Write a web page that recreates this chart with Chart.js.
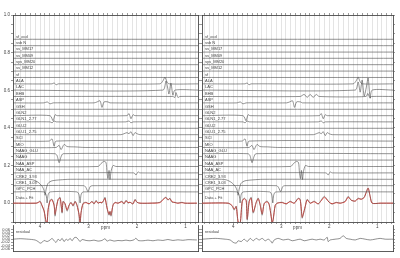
<!DOCTYPE html>
<html><head><meta charset="utf-8">
<script src="https://cdn.jsdelivr.net/npm/chart.js@4.4.1/dist/chart.umd.min.js"></script>
<style>
html,body{margin:0;padding:0;background:#fff;width:400px;height:258px;overflow:hidden}
canvas{position:absolute}
</style></head><body>
<canvas id="lt" style="left:0;top:0" width="200" height="236"></canvas>
<canvas id="rt" style="left:200px;top:0" width="200" height="236"></canvas>
<canvas id="lr" style="left:0;top:222px" width="200" height="36"></canvas>
<canvas id="rr" style="left:200px;top:222px" width="200" height="36"></canvas>
<script>
// ---------------- DATA ----------------
const names = ["sf_ocd","ssb N","ss_MM17","ss_MM09","sys_MM20","ss_MM12","sf","ALA","LAC","BHB","ASP","GSH","GLN2","GLN1_2.77","GLU2","GLU1_2.75","SCI","MIO","NAAG_GLU","NAAG","NAA_ASP","NAA_AC","CRE2_3.93","CRE1_3.03","GPC_PCH"];
const offsets = [0.871,0.837,0.803,0.770,0.736,0.702,0.668,0.634,0.601,0.567,0.533,0.499,0.465,0.432,0.398,0.364,0.330,0.296,0.263,0.229,0.195,0.161,0.127,0.093,0.060];
const xTicks = [4,3,2,1];
const yTicks = [0.0,0.2,0.4,0.6,0.8,1.0];
const resTicks = [-0.06,-0.04,-0.02,0.00,0.02,0.04,0.06];

// trace shapes: [ppm, deviation from own baseline]
const flat = [];
const ALA_L = [[3.753,0],[3.711,.005],[3.670,-.005],[3.629,0],[1.526,0],[1.464,.016],[1.423,.035],[1.381,.011],[1.340,0]];
const ALA_R = [[3.753,0],[3.711,.005],[3.670,-.005],[3.629,0],[1.500,0],[1.438,.016],[1.396,.035],[1.354,.011],[1.313,0]];
const LAC_L = [[1.464,0],[1.402,.048],[1.361,.005],[1.340,-.021],[1.299,.037],[1.258,-.027],[1.216,0]];
const LAC_R = [[1.458,0],[1.396,.043],[1.354,-.011],[1.313,.053],[1.271,-.032],[1.229,.011],[1.188,.064],[1.146,-.043],[1.104,0]];
const BHB_L = [[1.258,0],[1.216,-.005],[1.196,.021],[1.155,-.005],[1.113,0]];
const BHB_R = [[2.604,0],[2.521,.011],[2.458,-.005],[2.396,.011],[2.333,-.005],[2.271,.011],[2.208,0],[1.229,0],[1.196,.016],[1.155,-.005],[1.113,0]];
const ASP = [[3.918,0],[3.856,.005],[3.794,-.005],[3.732,0],[2.887,0],[2.825,.005],[2.763,.011],[2.722,-.024],[2.680,.005],[2.598,.005],[2.557,0]];
const GLN2 = [[3.794,0],[3.732,-.027],[3.691,.005],[3.649,0],[2.206,0],[2.165,.011],[2.124,-.016],[2.082,.005],[2.041,0]];
const GLN1 = [[3.794,0],[3.753,-.005],[3.711,.005],[3.670,0],[2.227,0],[2.165,.005],[2.124,-.005],[2.082,0]];
const GLU1 = [[2.330,0],[2.268,.005],[2.206,.011],[2.165,.005],[2.124,.016],[2.082,-.005],[2.041,.011],[2.000,.005],[1.938,0]];
const SCI = [[3.814,0],[3.753,.011],[3.711,-.027],[3.670,0]];
const MIO = [[3.670,0],[3.608,.011],[3.567,-.011],[3.505,.016],[3.443,.005],[3.278,.003],[3.072,0]];
const NAAG_GLU = [[3.691,0],[3.649,-.011],[3.608,-.048],[3.567,-.016],[3.526,0]];
const NAA_ASP = [[2.804,0],[2.742,.016],[2.680,.027],[2.639,.021],[2.619,-.032],[2.598,-.064],[2.577,-.021],[2.557,-.069],[2.536,-.027],[2.495,.005],[2.433,0]];
const NAA_AC = [[2.062,0],[2.021,-.011],[1.979,.005],[1.938,0]];
const CRE2 = [[4.247,0],[4.144,-.003],[4.041,-.016],[3.959,-.037],[3.918,-.059],[3.897,-.085],[3.876,-.053],[3.835,-.021],[3.753,-.008],[3.588,-.003],[3.381,0]];
const CRE1 = [[3.093,0],[3.052,-.011],[3.010,-.032],[2.969,-.005],[2.928,0]];
const GPC_PCH = [[3.918,0],[3.876,-.016],[3.856,-.059],[3.835,-.016],[3.794,0],[3.237,0],[3.196,-.016],[3.175,-.059],[3.155,-.016],[3.113,0]];

const shapesL = [flat,flat,flat,flat,flat,flat,flat,ALA_L,LAC_L,BHB_L,ASP,flat,GLN2,GLN1,flat,GLU1,SCI,MIO,NAAG_GLU,flat,NAA_ASP,NAA_AC,CRE2,CRE1,GPC_PCH];
const shapesR = [flat,flat,flat,flat,flat,flat,flat,ALA_R,LAC_R,BHB_R,ASP,flat,GLN2,GLN1,flat,GLU1,SCI,MIO,NAAG_GLU,flat,NAA_ASP,NAA_AC,CRE2,CRE1,GPC_PCH];

const dataL = [[4.557,0],[4.082,0],[4.041,.005],[4.000,.011],[3.959,-.016],[3.918,-.043],[3.876,-.106],[3.856,-.106],[3.835,-.032],[3.794,.016],[3.753,.021],[3.711,-.011],[3.691,-.069],[3.670,-.032],[3.629,.021],[3.588,.032],[3.567,-.011],[3.546,-.053],[3.526,.011],[3.485,-.005],[3.443,-.043],[3.402,-.011],[3.361,.005],[3.320,-.016],[3.278,.011],[3.237,-.011],[3.196,-.064],[3.175,-.106],[3.155,-.053],[3.113,0],[3.052,.005],[2.990,-.005],[2.928,.011],[2.887,-.005],[2.845,.016],[2.804,0],[2.763,.005],[2.722,0],[2.680,.021],[2.660,.032],[2.619,-.027],[2.577,-.064],[2.557,-.043],[2.536,-.069],[2.495,-.011],[2.454,.005],[2.392,0],[2.309,.011],[2.268,-.005],[2.227,.016],[2.186,0],[2.144,.005],[2.082,-.005],[2.041,.021],[2.000,.005],[1.938,0],[1.732,0],[1.526,.005],[1.464,.021],[1.402,.032],[1.361,.016],[1.320,.027],[1.278,.005],[1.216,.005],[1.155,0],[1.072,.005],[1.010,0],[0.763,0]];
const fitL = [[4.557,0],[4.082,0],[4.041,.003],[4.000,.008],[3.959,-.013],[3.918,-.040],[3.876,-.100],[3.856,-.106],[3.835,-.035],[3.794,.013],[3.753,.018],[3.711,-.013],[3.691,-.060],[3.670,-.030],[3.629,.018],[3.588,.027],[3.567,-.008],[3.546,-.048],[3.526,.008],[3.485,-.003],[3.443,-.037],[3.402,-.011],[3.361,.003],[3.320,-.013],[3.278,.008],[3.237,-.013],[3.196,-.060],[3.175,-.106],[3.155,-.050],[3.113,-.003],[3.052,.003],[2.990,-.003],[2.928,.008],[2.887,-.003],[2.845,.011],[2.804,0],[2.763,.005],[2.722,.003],[2.680,.018],[2.660,.027],[2.619,-.024],[2.577,-.060],[2.557,-.045],[2.536,-.064],[2.495,-.011],[2.454,.003],[2.392,0],[2.309,.008],[2.268,-.003],[2.227,.013],[2.186,.003],[2.144,.005],[2.082,-.003],[2.041,.018],[2.000,.005],[1.938,0],[1.732,0],[1.526,.003],[1.464,.018],[1.402,.030],[1.361,.018],[1.320,.024],[1.278,.008],[1.216,.003],[1.155,0],[1.072,.003],[1.010,0],[0.763,0]];
const dataR = [[4.646,0],[4.104,0],[4.021,-.016],[3.979,-.037],[3.938,-.016],[3.896,-.106],[3.854,-.106],[3.813,.011],[3.771,.027],[3.729,.016],[3.708,-.090],[3.667,.011],[3.625,.032],[3.583,-.053],[3.521,.005],[3.479,.027],[3.438,-.011],[3.396,-.064],[3.354,0],[3.292,.011],[3.250,-.005],[3.208,-.075],[3.188,-.106],[3.167,-.090],[3.125,-.011],[3.083,0],[2.979,.005],[2.896,-.005],[2.813,.011],[2.729,0],[2.646,.027],[2.604,.021],[2.563,-.080],[2.542,-.064],[2.500,-.021],[2.458,.021],[2.396,0],[2.313,.011],[2.229,-.005],[2.167,.016],[2.104,.037],[2.063,.027],[2.000,.005],[1.938,-.005],[1.854,.005],[1.771,0],[1.667,.011],[1.604,.037],[1.542,.016],[1.458,.011],[1.396,.027],[1.333,.021],[1.271,.032],[1.229,.059],[1.188,.080],[1.146,.037],[1.104,0],[0.938,0],[0.667,0]];
const fitR = [[4.646,0],[4.104,0],[4.021,-.013],[3.979,-.032],[3.938,-.018],[3.896,-.100],[3.854,-.106],[3.813,.008],[3.771,.024],[3.729,.013],[3.708,-.085],[3.667,.008],[3.625,.027],[3.583,-.048],[3.521,.003],[3.479,.024],[3.438,-.008],[3.396,-.058],[3.354,-.003],[3.292,.008],[3.250,-.008],[3.208,-.070],[3.188,-.106],[3.167,-.085],[3.125,-.013],[3.083,0],[2.979,.003],[2.896,-.003],[2.813,.008],[2.729,0],[2.646,.024],[2.604,.018],[2.563,-.075],[2.542,-.060],[2.500,-.018],[2.458,.018],[2.396,0],[2.313,.008],[2.229,-.003],[2.167,.013],[2.104,.032],[2.063,.024],[2.000,.005],[1.938,-.003],[1.854,.003],[1.771,0],[1.667,.008],[1.604,.032],[1.542,.016],[1.458,.011],[1.396,.024],[1.333,.021],[1.271,.030],[1.229,.056],[1.188,.080],[1.146,.035],[1.104,0],[0.938,0],[0.667,0]];

const resL = [[4.557,0],[4.412,.003],[4.247,0],[4.103,-.005],[4.041,-.015],[4.000,-.025],[3.959,-.02],[3.918,-.008],[3.856,-.015],[3.794,-.005],[3.753,.005],[3.711,-.01],[3.670,-.02],[3.629,0],[3.588,-.01],[3.546,.005],[3.505,-.015],[3.464,0],[3.423,-.008],[3.381,.005],[3.340,-.01],[3.299,.008],[3.258,.012],[3.216,0],[3.175,-.015],[3.134,-.002],[3.052,-.008],[2.969,-.01],[2.887,-.006],[2.804,-.012],[2.722,-.008],[2.660,.003],[2.619,-.012],[2.557,-.005],[2.474,-.012],[2.392,-.008],[2.309,-.01],[2.227,-.006],[2.144,-.01],[2.062,-.004],[2.021,.006],[1.979,-.008],[1.876,-.01],[1.773,-.006],[1.670,-.01],[1.567,-.005],[1.464,-.008],[1.361,-.002],[1.258,-.008],[1.155,-.004],[1.052,-.007],[0.948,-.003],[0.763,-.005]];
const resR = [[4.646,0],[4.375,.005],[4.167,0],[4.063,-.005],[4.000,-.02],[3.938,-.025],[3.896,-.01],[3.833,-.015],[3.771,0],[3.708,-.015],[3.646,.005],[3.583,-.01],[3.521,.005],[3.458,-.005],[3.396,.005],[3.333,-.01],[3.271,0],[3.208,-.015],[3.188,-.025],[3.146,-.005],[3.063,.005],[2.958,-.005],[2.854,0],[2.771,-.01],[2.688,-.005],[2.604,0],[2.521,-.01],[2.438,-.005],[2.354,0],[2.271,-.005],[2.188,0],[2.104,-.005],[2.042,.012],[2.021,-.015],[1.979,-.005],[1.875,0],[1.771,.005],[1.708,.022],[1.646,.005],[1.563,0],[1.458,-.005],[1.354,.005],[1.250,0],[1.146,-.005],[1.042,0],[0.938,.005],[0.833,0],[0.667,0]];

// ---------------- RENDER ----------------
const FONT = '"Liberation Sans", Arial, sans-serif';
const TXT = '#444';
const LINE = '#4a4a4a';

function pts(arr, off){ return arr.map(p => ({x:p[0], y:off + p[1]})); }
function traceSet(shape, off, xmin, xmax){
  const a = [[xmax,0]].concat(shape.slice().sort((p,q)=>q[0]-p[0])).concat([[xmin,0]]);
  return pts(a, off);
}

const textPlugin = {
  id:'txt',
  afterDatasetsDraw(chart, args, o){
    const ctx = chart.ctx, y = chart.scales.y, a = chart.chartArea;
    ctx.save();
    ctx.font = '4px ' + FONT;
    ctx.fillStyle = TXT;
    ctx.textBaseline = 'bottom';
    (o.labels||[]).forEach(l => ctx.fillText(l.t, a.left + 3, y.getPixelForValue(l.v) - 0.8));
    if (o.ppm) {
      ctx.font = '4.5px ' + FONT;
      ctx.textAlign = 'center';
      ctx.textBaseline = 'top';
      ctx.fillText('ppm', (a.left + a.right)/2, a.bottom + 4);
    }
    ctx.restore();
  }
};

function tenths(xmin, xmax){ const t=[]; for (let k=Math.ceil(xmin*10);k<=Math.floor(xmax*10);k++) t.push({value:k/10}); return t; }

function topChart(id, shapes, data, fit, xmin, xmax, yw, y2w, showY){
  const ds = [];
  shapes.forEach((s,i) => ds.push({data: traceSet(s, offsets[i], xmin, xmax), borderColor: LINE, borderWidth: 0.6}));
  ds.push({data: pts(data,0), borderColor:'#666', borderWidth:0.6});
  ds.push({data: pts(fit,0), borderColor:'#f2352c', borderWidth:1});
  const labels = names.map((t,i)=>({t, v:offsets[i]}));
  labels.push({t:'Data + Fit', v:0.013});
  const yScale = {min:-0.1, max:1.0, afterBuildTicks: s => { s.ticks = []; for (let k=-2;k<=20;k++) s.ticks.push({value:k*0.05}); },
      afterFit: s => { s.width = yw; },
      ticks:{display:showY, autoSkip:false, padding:1, color:TXT, font:{size:4.5, family:FONT},
        callback: v => { const r = Math.round(v*100); return (yTicks.some(t=>Math.round(t*100)===r)) ? (r/100).toFixed(1) : ''; }},
      grid:{drawOnChartArea:false, tickLength:2, color:'#555', lineWidth:0.6}, border:{color:'#333', width:0.8}};
  return new Chart(document.getElementById(id), {
    type:'scatter',
    data:{datasets: ds.map(d => Object.assign(d, {showLine:true, pointRadius:0, tension:0.25, fill:false}))},
    options:{
      responsive:false, animation:false, events:[],
      layout:{padding:0},
      plugins:{legend:{display:false}, tooltip:{enabled:false}, txt:{labels, ppm:true}},
      scales:{
        x:{type:'linear', reverse:true, min:xmin, max:xmax, position:'bottom',
           afterBuildTicks: s => { s.ticks = tenths(xmin, xmax); },
           afterFit: s => { s.height = 14; },
           ticks:{autoSkip:false, maxRotation:0, padding:0, color:TXT, font:{size:4.5, family:FONT},
             callback: v => xTicks.some(t=>Math.abs(t-v)<1e-6) ? String(Math.round(v)) : ''},
           grid:{drawOnChartArea:true, color:'#d2d2d2', lineWidth:0.6, borderDash:[1,1.5], tickLength:2, tickColor:'#555', tickBorderDash:[], tickWidth:0.6},
           border:{color:'#333', width:0.8}},
        x2:{type:'linear', reverse:true, min:xmin, max:xmax, position:'top',
           afterBuildTicks: s => { s.ticks = tenths(xmin, xmax); },
           afterFit: s => { s.height = 15; },
           ticks:{display:true, autoSkip:false, callback:()=>'', font:{size:1}},
           grid:{drawOnChartArea:false, tickLength:2, color:'#555', lineWidth:0.6}, border:{color:'#333', width:0.8}},
        y: Object.assign({position:'left'}, yScale),
        y2: Object.assign({}, yScale, {position:'right', afterFit: s => { s.width = y2w; }, ticks:{display:true, callback:()=>'', font:{size:1}}})
      }
    },
    plugins:[textPlugin]
  });
}

function resChart(id, res, xmin, xmax, yw, y2w, showY){
  const yScale = {min:-0.074, max:0.085,
      afterBuildTicks: s => { s.ticks = resTicks.map(v=>({value:v})); },
      afterFit: s => { s.width = yw; },
      ticks:{display:showY, autoSkip:false, padding:1, color:TXT, font:{size:4, family:FONT}, callback: v => v.toFixed(2)},
      grid:{drawOnChartArea:false, tickLength:2, color:'#555', lineWidth:0.6}, border:{color:'#333', width:0.8}};
  return new Chart(document.getElementById(id), {
    type:'scatter',
    data:{datasets:[{data: pts(res,0), showLine:true, pointRadius:0, borderColor:'#444', borderWidth:0.6, tension:0.25}]},
    options:{
      responsive:false, animation:false, events:[],
      layout:{padding:0},
      plugins:{legend:{display:false}, tooltip:{enabled:false}, txt:{labels:[{t:'residual', v:0.026}], ppm:false}},
      scales:{
        x:{type:'linear', reverse:true, min:xmin, max:xmax, position:'bottom',
           afterFit: s => { s.height = 7; }, ticks:{display:false}, grid:{display:false}, border:{color:'#333', width:0.8}},
        y: Object.assign({position:'left'}, yScale),
        y2: Object.assign({}, yScale, {position:'right', afterFit: s => { s.width = y2w; }, ticks:{display:true, callback:()=>'', font:{size:1}}})
      }
    },
    plugins:[textPlugin]
  });
}

topChart('lt', shapesL, dataL, fitL, 0.74, 4.56, 13, 2, true);
topChart('rt', shapesR, dataR, fitR, 0.67, 4.65, 2, 7, false);
resChart('lr', resL, 0.74, 4.56, 13, 2, true);
resChart('rr', resR, 0.67, 4.65, 2, 7, false);
</script>
</body></html>
